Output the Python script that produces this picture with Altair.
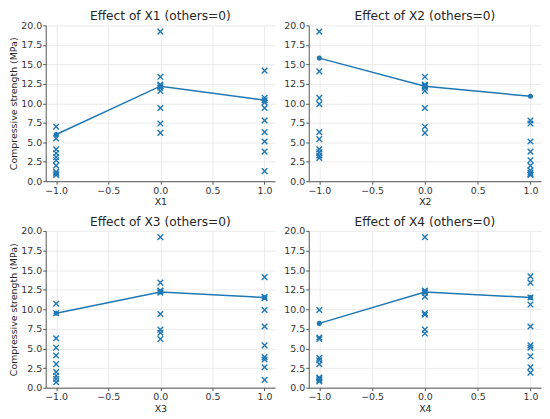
import altair as alt
import pandas as pd

# ---- data ----
levels = [-1.0, 0.0, 1.0]

# scatter observations per factor panel, grouped by level (-1, 0, 1)
x1_m1 = [7.0, 5.5, 4.1, 3.6, 3.1, 2.7, 2.0, 1.2, 1.0, 0.8]
x1_0 = [19.2, 13.4, 12.4, 12.2, 12.0, 11.6, 9.4, 7.4, 6.2]
x1_p1 = [14.2, 10.7, 10.4, 10.1, 9.4, 7.8, 6.3, 5.1, 3.8, 1.3]

x2_m1 = [19.2, 14.1, 10.7, 9.9, 6.3, 5.4, 4.1, 3.7, 3.3, 3.0]
x2_0 = [13.4, 12.4, 12.3, 12.2, 12.0, 11.6, 9.4, 7.0, 6.2]
x2_p1 = [7.8, 7.4, 5.1, 3.8, 2.7, 2.0, 1.4, 1.1, 0.9, 0.8]

x3_m1 = [10.7, 9.5, 6.3, 5.1, 4.1, 3.0, 2.0, 1.5, 1.1, 0.7]
x3_0 = [19.2, 13.4, 12.4, 12.3, 12.1, 9.4, 7.4, 7.0, 6.2]
x3_p1 = [14.1, 11.6, 11.4, 9.9, 7.8, 5.4, 3.9, 3.6, 2.6, 1.0]

x4_m1 = [9.9, 6.4, 6.2, 3.8, 3.5, 3.0, 1.3, 1.2, 1.0, 0.8]
x4_0 = [19.2, 12.4, 12.3, 12.1, 11.6, 9.5, 9.3, 7.4, 6.9]
x4_p1 = [14.2, 13.4, 11.5, 10.6, 7.8, 5.4, 5.1, 4.0, 2.6, 1.9]

# effect line (value at each level, others = 0)
x1_effect = [6.0, 12.2, 10.4]
x2_effect = [15.8, 12.2, 10.9]
x3_effect = [9.5, 12.2, 11.5]
x4_effect = [8.2, 12.2, 11.5]

factor_names = ["X1", "X2", "X3", "X4"]
obs = [
    (x1_m1, x1_0, x1_p1),
    (x2_m1, x2_0, x2_p1),
    (x3_m1, x3_0, x3_p1),
    (x4_m1, x4_0, x4_p1),
]
effects = [x1_effect, x2_effect, x3_effect, x4_effect]

x_ticks = [-1.0, -0.5, 0.0, 0.5, 1.0]
y_ticks = [0.0, 2.5, 5.0, 7.5, 10.0, 12.5, 15.0, 17.5, 20.0]

BLUE = "#1f77b4"
FONT = "DejaVu Sans"
X_SHAPE = "M-1,-1L1,1M-1,1L1,-1"


def panel(idx, left, width, height):
    name = factor_names[idx]
    rows = []
    for lv, vals in zip(levels, obs[idx]):
        for v in vals:
            rows.append({"x": lv, "y": v})
    scat_df = pd.DataFrame(rows)
    eff_df = pd.DataFrame({"x": levels, "y": effects[idx]})

    def xenc():
        return alt.X(
            "x:Q",
            scale=alt.Scale(domain=[-1.1, 1.1], nice=False, zero=False),
            axis=alt.Axis(values=x_ticks, format=".1f", title=name, labelOverlap=False),
        )

    def yenc():
        return alt.Y(
            "y:Q",
            scale=alt.Scale(domain=[0, 20], nice=False),
            axis=alt.Axis(
                values=y_ticks,
                format=".1f",
                labelOverlap=False,
                title="Compressive strength (MPa)" if left else "",
            ),
        )

    scat = alt.Chart(scat_df).mark_point(
        shape=X_SHAPE, filled=False, size=32, strokeWidth=1.4, color=BLUE, opacity=1
    ).encode(x=xenc(), y=yenc())
    line = alt.Chart(eff_df).mark_line(color=BLUE, strokeWidth=1.5).encode(x=xenc(), y=yenc())
    dots = alt.Chart(eff_df).mark_circle(color=BLUE, size=26, opacity=1).encode(x=xenc(), y=yenc())

    return alt.layer(scat, line, dots).properties(
        width=width,
        height=height,
        title=alt.TitleParams(f"Effect of {name} (others=0)", fontSize=12.3, offset=-2,
                              frame="group", font=FONT, fontWeight="normal",
                              color="#262626"),
    )


top = alt.hconcat(panel(0, True, 231, 157), panel(1, False, 234, 157), spacing=7)
bottom = alt.hconcat(panel(2, True, 231, 158), panel(3, False, 234, 158), spacing=7)

chart = (
    alt.vconcat(top, bottom, spacing=8)
    .properties(padding=0)
    .configure_view(stroke="transparent")
    .configure_axis(
        labelFont=FONT,
        titleFont=FONT,
        labelFontSize=9.5,
        titleFontSize=9.5,
        titleFontWeight="normal",
        labelColor="#333333",
        titleColor="#262626",
        domainColor="#555555",
        tickColor="#555555",
        tickSize=3,
        labelPadding=1,
        titlePadding=2,
        minExtent=0,
        gridColor="#e6e6e6",
        gridWidth=0.8,
    )
)

chart.save("out.html", embed_options={"renderer": "svg", "actions": False})
